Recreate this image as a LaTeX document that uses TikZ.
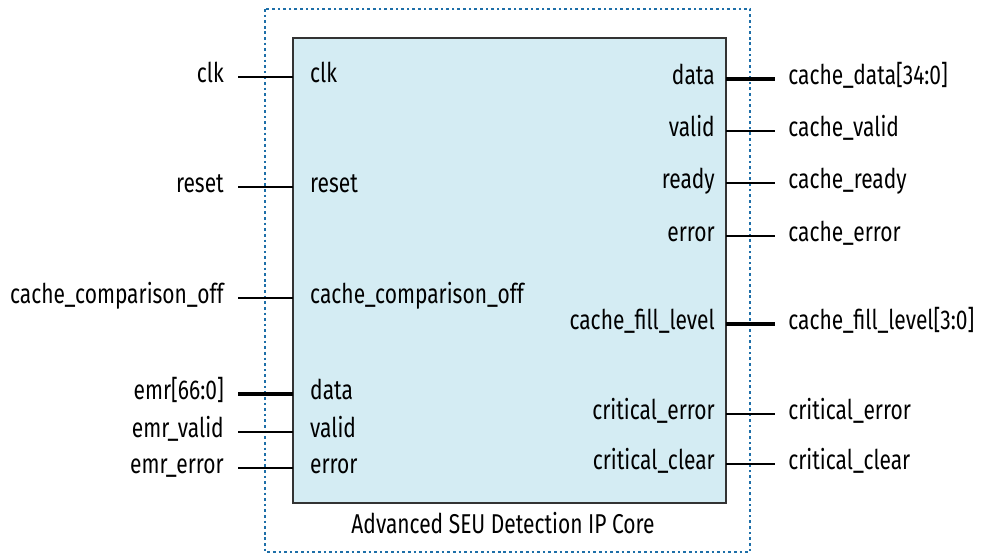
\documentclass[tikz,border=0pt]{standalone}
\usepackage{fontspec}
\setmainfont[FakeStretch=0.77]{Fira Sans}
\usetikzlibrary{positioning}
\definecolor{corefill}{HTML}{D4ECF3}
\definecolor{dotblue}{HTML}{1E6FA8}
\tikzset{
  port/.style={inner ysep=0pt, text height=1.55ex, text depth=.45ex, font=\fontsize{15.5}{17}\selectfont},
  lpin/.style={port, anchor=east, inner xsep=7.9pt},
  rpin/.style={port, anchor=west, inner xsep=7.4pt},
  inl/.style={port, anchor=west, inner xsep=9.6pt},
  inr/.style={port, anchor=east, inner xsep=6.2pt},
  wire/.style={line width=0.6pt},
  bus/.style={line width=2.4pt},
}
\begin{document}
\begin{tikzpicture}[x=0.02cm,y=-0.02cm]
  \useasboundingbox (0,0) rectangle (986,554);
  % dotted wrapper
  \draw[dotblue, line width=1.5pt, dash pattern=on 1.5pt off 1.7pt] (265,9) rectangle (750,552);
  % core block
  \coordinate (nw) at (293,38);
  \coordinate (se) at (726,503);
  \filldraw[fill=corefill, draw=black!80, line width=1.1pt] (nw) rectangle (se);
  \node[port] (title) at (503,528) {Advanced SEU Detection IP Core};

  % inputs
  \node[lpin] (clk) at (238,77) {clk};
  \node[lpin] (reset) at (238,187) {reset};
  \node[lpin] (cmpoff) at (238,298) {cache\_comparison\_off};
  \node[lpin] (emr) at (238,394) {emr[66:0]};
  \node[lpin] (emrvalid) at (238,432) {emr\_valid};
  \node[lpin] (emrerror) at (238,468) {emr\_error};

  \node[inl] (p_clk) at (clk -| nw) {clk};
  \node[inl] (p_reset) at (reset -| nw) {reset};
  \node[inl] (p_cmpoff) at (cmpoff -| nw) {cache\_comparison\_off};
  \node[inl] (p_data) at (emr -| nw) {data};
  \node[inl] (p_valid) at (emrvalid -| nw) {valid};
  \node[inl] (p_error) at (emrerror -| nw) {error};

  \draw[wire] (clk.east) -- (p_clk.west);
  \draw[wire] (reset.east) -- (p_reset.west);
  \draw[wire] (cmpoff.east) -- (p_cmpoff.west);
  \draw[bus] (emr.east) -- (p_data.west);
  \draw[wire] (emrvalid.east) -- (p_valid.west);
  \draw[wire] (emrerror.east) -- (p_error.west);

  % outputs
  \node[rpin] (cdata) at (775,79) {cache\_data[34:0]};
  \node[rpin] (cvalid) at (775,131) {cache\_valid};
  \node[rpin] (cready) at (775,183) {cache\_ready};
  \node[rpin] (cerror) at (775,236) {cache\_error};
  \node[rpin] (cfill) at (775,324) {cache\_fill\_level[3:0]};
  \node[rpin] (crerr) at (775,414) {critical\_error};
  \node[rpin] (crclr) at (775,464) {critical\_clear};

  \node[inr] (q_data) at (cdata -| se) {data};
  \node[inr] (q_valid) at (cvalid -| se) {valid};
  \node[inr] (q_ready) at (cready -| se) {ready};
  \node[inr] (q_error) at (cerror -| se) {error};
  \node[inr] (q_fill) at (cfill -| se) {cache\_fill\_level};
  \node[inr] (q_crerr) at (crerr -| se) {critical\_error};
  \node[inr] (q_crclr) at (crclr -| se) {critical\_clear};

  \draw[bus] (q_data.east) -- (cdata.west);
  \draw[wire] (q_valid.east) -- (cvalid.west);
  \draw[wire] (q_ready.east) -- (cready.west);
  \draw[wire] (q_error.east) -- (cerror.west);
  \draw[bus] (q_fill.east) -- (cfill.west);
  \draw[wire] (q_crerr.east) -- (crerr.west);
  \draw[wire] (q_crclr.east) -- (crclr.west);
\end{tikzpicture}
\end{document}
